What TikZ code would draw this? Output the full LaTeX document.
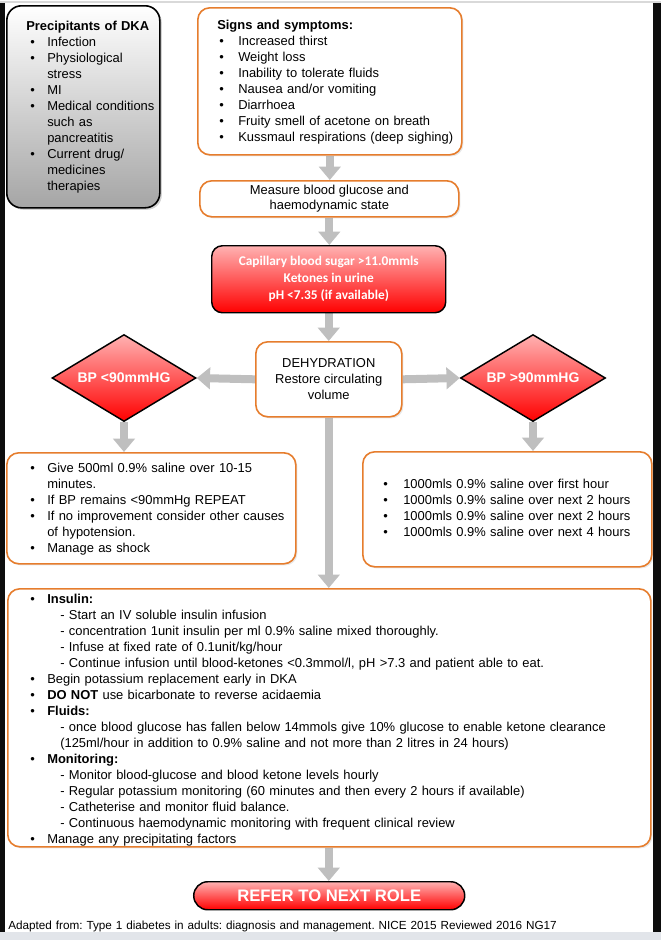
\documentclass[tikz,border=0pt]{standalone}
\usepackage{fontspec}
\setmainfont{Liberation Sans}
\newfontfamily\carl{Carlito}
\usetikzlibrary{arrows.meta,shapes.geometric,shadows,backgrounds}
\definecolor{orng}{RGB}{230,125,45}
\definecolor{agray}{RGB}{191,191,191}
\definecolor{pinktop}{RGB}{255,178,178}
\definecolor{redbot}{RGB}{255,0,0}
\definecolor{boxgray}{RGB}{165,165,165}
\definecolor{stripgray}{RGB}{226,229,234}
\newcommand{\px}{0.75pt}
\newcommand{\bul}[1][12.75pt]{\makebox[#1][l]{\textbullet}}
\newcommand{\ii}[1][12.75pt]{\hspace*{#1}}
\begin{document}
\frenchspacing
\begin{tikzpicture}[x=0.75pt,y=-0.75pt,
  obox/.style={draw=orng, line width=1.2pt, rounded corners=9pt, fill=white, inner sep=0pt, anchor=north west,
    drop shadow={opacity=0.18, shadow xshift=1.2pt, shadow yshift=-1.2pt}},
  gbox/.style={draw=black, line width=1.2pt, rounded corners=11pt, top color=white, bottom color=boxgray, inner sep=0pt, anchor=north west,
    drop shadow={opacity=0.35, shadow xshift=1.5pt, shadow yshift=-1.5pt}},
  rbox/.style={draw=black, line width=1.1pt, top color=pinktop, bottom color=redbot, inner sep=0pt, text=white},
  txt/.style={anchor=base west, inner sep=0pt, align=left, font=\fontsize{9.7}{12}\selectfont},
  garrow/.style={draw=agray, line width=6pt, -{Triangle[width=16pt,length=10pt]}}
]
\useasboundingbox (0,0) rectangle (661,940);
% frame of the screenshot
\fill[black!95] (0,3) rectangle (5,932);
\fill[black!95] (653,3) rectangle (661,932);
\draw[black!15, line width=1.2pt] (0,2) -- (661,2);
\fill[stripgray] (0,932) rectangle (661,940);

% boxes
\node[gbox, minimum width=153*\px, minimum height=202*\px] (prec) at (6,5) {};
\node[obox, minimum width=264*\px, minimum height=147*\px] (sign) at (197,7) {};
\node[obox, minimum width=259*\px, minimum height=36*\px, align=center, font=\fontsize{9.7}{11.25}\selectfont] (meas) at (199,180) {Measure blood glucose and\\haemodynamic state};
\node[rbox, rounded corners=8pt, anchor=north west, minimum width=234*\px, minimum height=67*\px, align=center, font=\carl\bfseries\fontsize{10}{12.75}\selectfont] (caps) at (211,245) {Capillary blood sugar >11.0mmls\\Ketones in urine\\pH <7.35 (if available)};
\node[obox, minimum width=146*\px, minimum height=75*\px, align=center, font=\fontsize{9.7}{12}\selectfont] (dehy) at (255,341) {DEHYDRATION\\Restore circulating\\volume};
\node[rbox, diamond, aspect=1.65, minimum width=144*\px, minimum height=87*\px, font=\bfseries\fontsize{10.5}{12}\selectfont] (ldia) at (124,378) {BP <90mmHG};
\node[rbox, diamond, aspect=1.65, minimum width=145*\px, minimum height=87*\px, font=\bfseries\fontsize{10.5}{12}\selectfont] (rdia) at (533,378) {BP >90mmHG};
\node[obox, minimum width=289*\px, minimum height=111*\px] (lbox) at (6,452) {};
\node[obox, minimum width=289*\px, minimum height=115*\px] (rbox) at (362,451) {};
\node[obox, minimum width=643*\px, minimum height=258*\px] (big) at (7,588) {};
\node[rbox, rounded corners=10.5pt, anchor=north west, minimum width=271*\px, minimum height=28*\px, font=\bfseries\fontsize{12.5}{14}\selectfont] (refer) at (193,881) {REFER TO NEXT ROLE};

% texts
\node[txt, text width=140pt] (prectxt) at (26,30) {\textbf{Precipitants of DKA}\\
\hspace*{3pt}\bul Infection\\
\hspace*{3pt}\bul Physiological\\
\hspace*{3pt}\ii stress\\
\hspace*{3pt}\bul MI\\
\hspace*{3pt}\bul Medical conditions\\
\hspace*{3pt}\ii such as\\
\hspace*{3pt}\ii pancreatitis\\
\hspace*{3pt}\bul Current drug/\\
\hspace*{3pt}\ii medicines\\
\hspace*{3pt}\ii therapies};

\node[txt, text width=240pt] (signtxt) at (217,29) {\textbf{Signs and symptoms:}\\
\hspace*{1.5pt}\bul[14.25pt]Increased thirst\\
\hspace*{1.5pt}\bul[14.25pt]Weight loss\\
\hspace*{1.5pt}\bul[14.25pt]Inability to tolerate fluids\\
\hspace*{1.5pt}\bul[14.25pt]Nausea and/or vomiting\\
\hspace*{1.5pt}\bul[14.25pt]Diarrhoea\\
\hspace*{1.5pt}\bul[14.25pt]Fruity smell of acetone on breath\\
\hspace*{1.5pt}\bul[14.25pt]Kussmaul respirations (deep sighing)};

\node[txt, text width=260pt] (ltxt) at (30,472) {\bul Give 500ml 0.9\% saline over 10-15\\
\ii minutes.\\
\bul If BP remains <90mmHg REPEAT\\
\bul If no improvement consider other causes\\
\ii of hypotension.\\
\bul Manage as shock};

\node[txt, text width=250pt] (rtxt) at (383,488) {\bul[15pt]1000mls 0.9\% saline over first hour\\
\bul[15pt]1000mls 0.9\% saline over next 2 hours\\
\bul[15pt]1000mls 0.9\% saline over next 2 hours\\
\bul[15pt]1000mls 0.9\% saline over next 4 hours};

\node[txt, text width=480pt] (bigtxt) at (30,603) {\bul\textbf{Insulin:}\\
\ii[22.5pt]- Start an IV soluble insulin infusion\\
\ii[22.5pt]- concentration 1unit insulin per ml 0.9\% saline mixed thoroughly.\\
\ii[22.5pt]- Infuse at fixed rate of 0.1unit/kg/hour\\
\ii[22.5pt]- Continue infusion until blood-ketones <0.3mmol/l, pH >7.3 and patient able to eat.\\
\bul Begin potassium replacement early in DKA\\
\bul\textbf{DO NOT} use bicarbonate to reverse acidaemia\\
\bul\textbf{Fluids:}\\
\ii[22.5pt]- once blood glucose has fallen below 14mmols give 10\% glucose to enable ketone clearance\\
\ii[22.5pt](125ml/hour in addition to 0.9\% saline and not more than 2 litres in 24 hours)\\
\bul\textbf{Monitoring:}\\
\ii[22.5pt]- Monitor blood-glucose and blood ketone levels hourly\\
\ii[22.5pt]- Regular potassium monitoring (60 minutes and then every 2 hours if available)\\
\ii[22.5pt]- Catheterise and monitor fluid balance.\\
\ii[22.5pt]- Continuous haemodynamic monitoring with frequent clinical review\\
\bul Manage any precipitating factors};

\node[txt, text width=480pt, font=\fontsize{8.8}{10}\selectfont] (foot) at (8,929) {Adapted from: Type 1 diabetes in adults: diagnosis and management. NICE 2015 Reviewed 2016 NG17};

% connectors
\begin{scope}[on background layer]
\draw[garrow] (sign.south) -- (sign.south |- meas.north);
\draw[garrow] (meas.south) -- (meas.south |- caps.north);
\draw[garrow] (caps.south) -- (caps.south |- dehy.north);
\draw[garrow] (dehy.west) -- (ldia.east);
\draw[garrow] (dehy.east) -- (rdia.west);
\draw[garrow] (ldia.south) -- (ldia.south |- lbox.north);
\draw[garrow] (rdia.south) -- (rdia.south |- rbox.north);
\draw[garrow] (dehy.south) -- (dehy.south |- big.north);
\draw[garrow] (big.south -| dehy.south) -- (dehy.south |- refer.north);
\end{scope}
\end{tikzpicture}
\end{document}
